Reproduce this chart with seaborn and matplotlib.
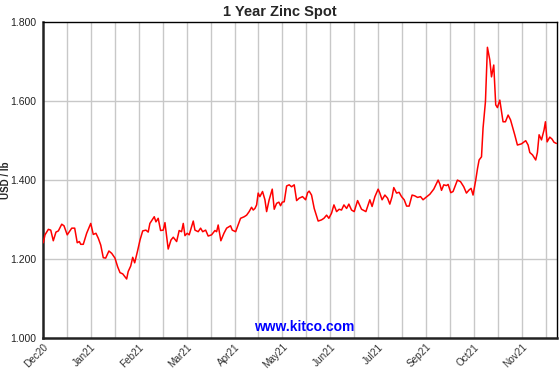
import matplotlib
matplotlib.use("Agg")
import matplotlib.pyplot as plt
import seaborn as sns
import pandas as pd
import numpy as np

# Tage seit Chartbeginn und Zinkpreis in USD/lb
days = [0.2, 1.4, 3.8, 5.5, 7.3, 9.2, 10.9, 13.3, 14.9, 17.2, 20.4, 22.5, 24.3, 25.8,
        26.8, 28.6, 31.0, 33.9, 35.7, 37.6, 39.3, 41.0, 42.8, 44.5, 46.8, 48.8, 51.1,
        53.0, 54.7, 56.6, 59.4, 60.5, 62.3, 63.7, 65.1, 67.2, 68.9, 70.8, 73.1, 74.7,
        75.9, 77.2, 79.0, 80.2, 81.8, 83.5, 85.4, 86.6, 88.9, 90.9, 92.5, 94.9, 96.7,
        98.4, 99.6, 100.8, 102.4, 103.8, 106.7, 107.9, 110.2, 111.9, 113.4, 115.5,
        117.3, 119.7, 122.1, 123.3, 124.4, 126.3, 128.5, 130.4, 133.2, 134.4, 136.8,
        140.3, 142.9, 144.6, 146.4, 148.1, 149.3, 150.5, 151.7, 152.8, 154.0, 155.9,
        157.6, 158.8, 160.6, 162.8, 164.2, 165.9, 167.5, 168.7, 169.9, 171.3, 173.0,
        174.8, 176.5, 178.4, 180.1, 181.9, 184.3, 186.5, 187.9, 189.0, 190.7, 192.6,
        195.4, 197.8, 199.5, 201.4, 203.0, 204.9, 206.6, 208.5, 210.3, 212.0, 213.7,
        215.6, 217.2, 219.1, 221.0, 223.4, 224.8, 226.2, 229.3, 232.1, 233.7, 235.7,
        238.0, 239.2, 240.8, 242.8, 244.7, 246.3, 247.9, 249.1, 251.1, 252.9, 254.6,
        256.5, 258.2, 260.0, 262.1, 264.0, 266.0, 268.1, 269.9, 271.9, 274.7, 277.5,
        279.0, 280.6, 281.8, 283.0, 284.6, 286.5, 287.7, 289.6, 291.2, 294.3, 296.5,
        298.8, 300.7, 302.6, 304.0, 305.4, 307.3, 308.6, 309.7, 311.4, 312.5, 314.2,
        315.6, 317.3, 318.5, 320.1, 321.5, 322.7, 324.4, 326.7, 328.4, 330.3, 332.0,
        335.0, 336.9, 339.8, 342.8, 344.5, 345.7, 347.6, 349.9, 351.1, 352.3, 354.0,
        355.8, 356.8, 358.0, 359.9, 361.5, 362.9, 364.6]

prices = [1.241, 1.261, 1.275, 1.273, 1.246, 1.268, 1.271, 1.288, 1.284, 1.261, 1.278,
          1.278, 1.241, 1.244, 1.237, 1.237, 1.265, 1.290, 1.262, 1.265, 1.252, 1.235,
          1.203, 1.202, 1.220, 1.214, 1.202, 1.180, 1.165, 1.162, 1.149, 1.168, 1.182,
          1.204, 1.190, 1.221, 1.248, 1.271, 1.273, 1.268, 1.290, 1.297, 1.307, 1.294,
          1.303, 1.272, 1.273, 1.292, 1.225, 1.248, 1.255, 1.244, 1.272, 1.269, 1.290,
          1.259, 1.265, 1.261, 1.296, 1.273, 1.269, 1.278, 1.269, 1.273, 1.258, 1.261,
          1.272, 1.269, 1.286, 1.246, 1.265, 1.278, 1.284, 1.273, 1.269, 1.303, 1.307,
          1.311, 1.320, 1.331, 1.324, 1.328, 1.337, 1.367, 1.358, 1.371, 1.350, 1.320,
          1.350, 1.377, 1.326, 1.341, 1.344, 1.335, 1.344, 1.345, 1.385, 1.388, 1.383,
          1.388, 1.348, 1.354, 1.358, 1.350, 1.368, 1.372, 1.362, 1.328, 1.296, 1.299,
          1.303, 1.311, 1.303, 1.316, 1.337, 1.320, 1.326, 1.324, 1.337, 1.328, 1.339,
          1.324, 1.320, 1.348, 1.337, 1.326, 1.320, 1.350, 1.333, 1.358, 1.377, 1.367,
          1.350, 1.362, 1.354, 1.339, 1.358, 1.381, 1.367, 1.369, 1.358, 1.350, 1.334,
          1.334, 1.362, 1.360, 1.356, 1.358, 1.350, 1.356, 1.364, 1.377, 1.388, 1.400,
          1.390, 1.374, 1.388, 1.386, 1.389, 1.368, 1.371, 1.400, 1.396, 1.383, 1.367,
          1.375, 1.379, 1.362, 1.400, 1.430, 1.451, 1.459, 1.532, 1.599, 1.737, 1.705,
          1.662, 1.692, 1.591, 1.584, 1.603, 1.548, 1.548, 1.565, 1.553, 1.515, 1.489,
          1.492, 1.500, 1.489, 1.470, 1.464, 1.451, 1.470, 1.515, 1.502, 1.527, 1.548,
          1.497, 1.509, 1.504, 1.496, 1.493]

month_labels = ["Dec20", "Jan21", "Feb21", "Mar21", "Apr21", "May21", "Jun21",
                "Jul21", "Sep21", "Oct21", "Nov21"]
label_days = [0, 34, 68, 102, 136, 170, 204, 238, 272, 306, 340]
grid_days = [17 * i for i in range(22)]
y_ticks = [1.0, 1.2, 1.4, 1.6, 1.8]

df = pd.DataFrame({"Tag": days, "Preis": prices})

sns.set_style("white")
plt.rcParams["font.family"] = ["Liberation Sans", "DejaVu Sans"]

fig = plt.figure(figsize=(5.6, 3.71), dpi=100)
ax = fig.add_axes([0.0768, 0.0898, 0.9178, 0.8496])

# Gitter zuerst, damit die Linie darüber liegt
for d in grid_days[1:]:
    ax.axvline(d, color="#c8c8c8", lw=1, zorder=0)
for v in y_ticks[1:-1]:
    ax.axhline(v, color="#c8c8c8", lw=1, zorder=0)

sns.lineplot(data=df, x="Tag", y="Preis", color="#ff0000", lw=1.1, ax=ax, zorder=3)

ax.set_xlim(0, 365)
ax.set_ylim(1.0, 1.8)
ax.set_yticks(y_ticks)
ax.set_yticklabels([f"{v:.3f}" for v in y_ticks], fontsize=7.5, color="#222222")
ax.set_xticks(label_days)
ax.set_xticklabels(month_labels, rotation=45, ha="right", rotation_mode="anchor",
                   fontsize=7.2, color="#333333")
ax.tick_params(axis="y", direction="out", length=4, width=1, color="black", pad=1)
ax.tick_params(axis="x", length=0, pad=3)
ax.set_xlabel("")
ax.set_ylabel("USD / lb", fontsize=7, fontweight="bold")
ax.yaxis.set_label_coords(-0.063, 0.5)

for side in ["top", "right"]:
    ax.spines[side].set_color("black")
    ax.spines[side].set_linewidth(1)
for side in ["left", "bottom"]:
    ax.spines[side].set_color("#222222")
    ax.spines[side].set_linewidth(1.8)

fig.text(0.5, 0.968, "1 Year Zinc Spot", ha="center", va="center",
         fontsize=10.5, fontweight="bold")
ax.text(0.508, 0.035, "www.kitco.com", transform=ax.transAxes, ha="center",
        va="center", fontsize=10, fontweight="bold", color="#0000ff", zorder=4)

fig.savefig("out.png", dpi=100)
